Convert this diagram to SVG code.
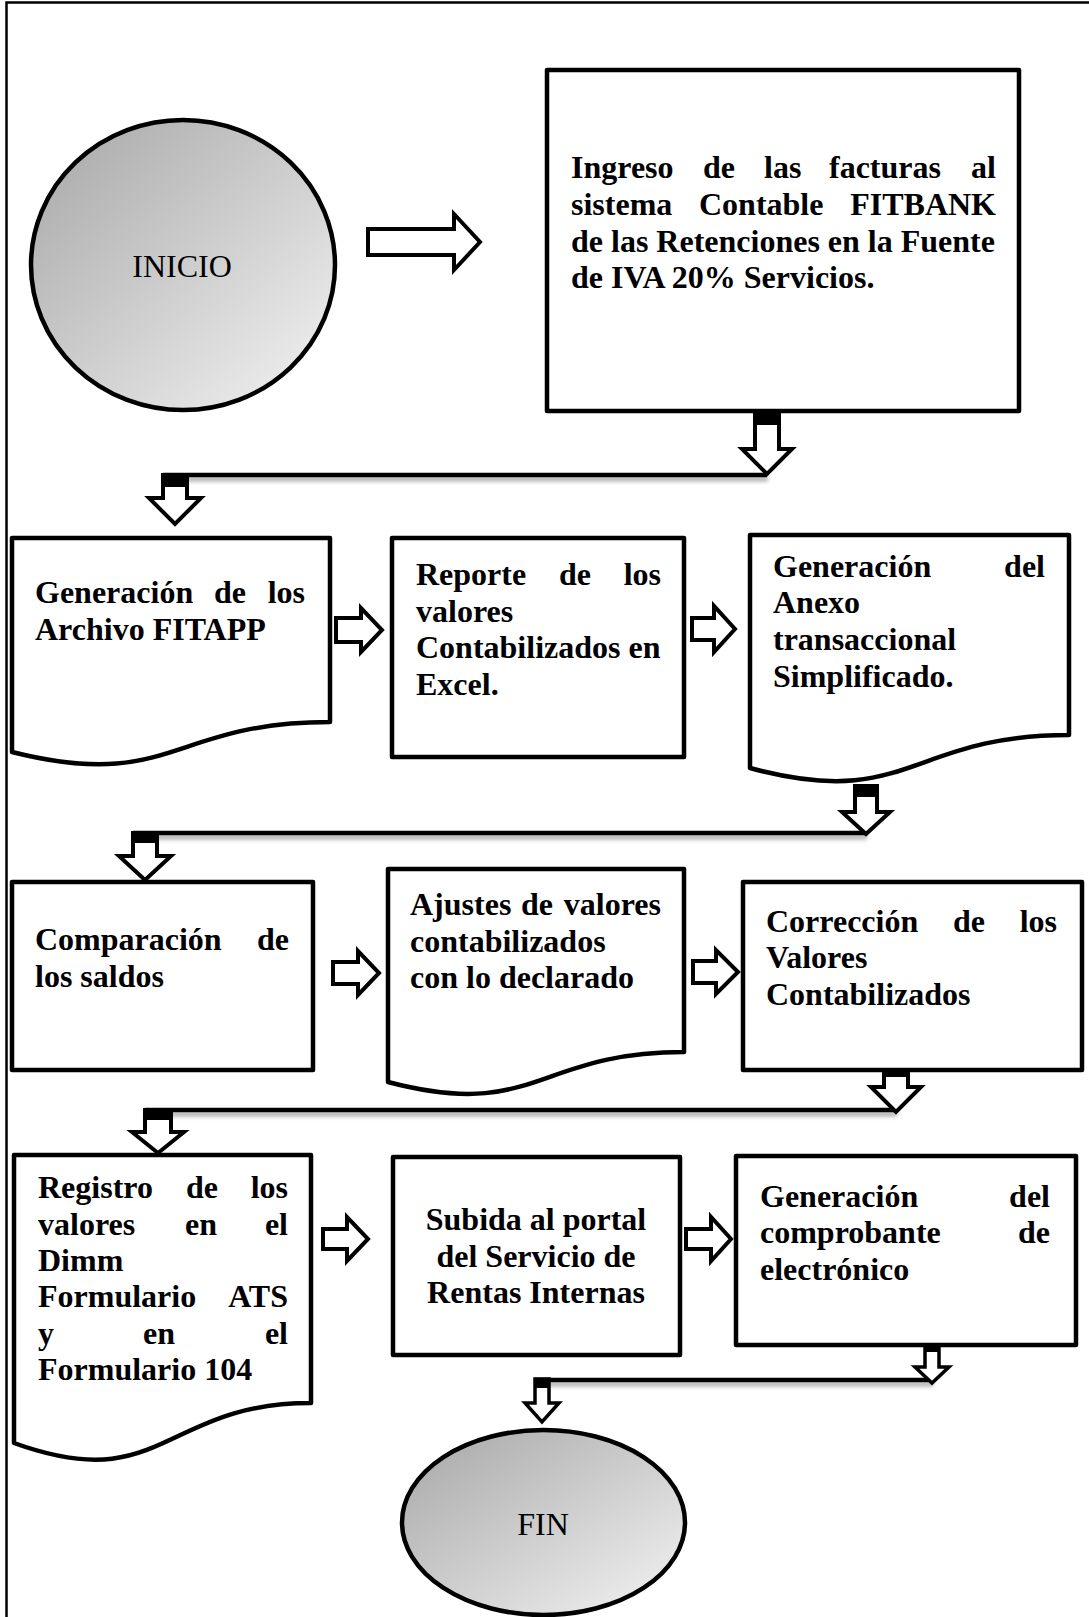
<svg xmlns="http://www.w3.org/2000/svg" width="1089" height="1617" viewBox="0 0 1089 1617">
<style>
.frame{fill:none;stroke:#000;stroke-width:2.5}
.box{fill:#fff;stroke:#000;stroke-width:4.5;stroke-linejoin:round}
.term{stroke:#000;stroke-width:4.5}
.t{font-family:"Liberation Serif","Times New Roman",serif;font-weight:bold;font-size:32px;fill:#000}
.tr{font-family:"Liberation Serif","Times New Roman",serif;font-size:32px;fill:#000;text-anchor:middle}
.e{text-anchor:end}
.m{text-anchor:middle}
.arr{fill:#fff;stroke:#000;stroke-width:4;stroke-linejoin:miter}
.arrn{fill:#fff;stroke:#000;stroke-width:3.5;stroke-linejoin:miter}
.cap{fill:#000}
.ln{fill:none;stroke:#000;stroke-width:4.5;filter:url(#sh)}
</style>
<defs>
<linearGradient id="gr" x1="0" y1="0" x2="1" y2="1">
<stop offset="0" stop-color="#a6a6a6"/>
<stop offset="1" stop-color="#f4f4f4"/>
</linearGradient>
<filter id="sh" filterUnits="userSpaceOnUse" x="0" y="0" width="1089" height="1617">
<feDropShadow dx="1" dy="4" stdDeviation="2" flood-color="#000" flood-opacity="0.35"/>
</filter>
</defs>
<rect width="1089" height="1617" fill="#fff"/>
<rect class="frame" x="6.5" y="2.5" width="1200" height="1700"/>

<g id="connectors">
<path class="arr" d="M368,229 H454 V214 L480,242 L454,270 V255 H368 Z"/>
<path class="ln" d="M163,475 H767"/>
<path class="arr" d="M755,413 H779 V449 H792 L767,474 L742,449 H755 Z"/>
<rect class="cap" x="755" y="413" width="24" height="12"/>
<path class="arr" d="M163,475 H187 V498 H201 L175,524 L149,498 H163 Z"/>
<rect class="cap" x="163" y="475" width="24" height="12"/>
<path class="arr" d="M336,618 H361 V608 L382,630 L361,652 V642 H336 Z"/>
<path class="arr" d="M692,618 H714 V606 L735,629 L714,652 V640 H692 Z"/>
<path class="ln" d="M133,833 H866"/>
<path class="arr" d="M855,786 H877 V812 H890 L866,834 L842,812 H855 Z"/>
<rect class="cap" x="855" y="786" width="22" height="11"/>
<path class="arr" d="M133,833 H157 V856 H171 L145,880 L119,856 H133 Z"/>
<rect class="cap" x="133" y="833" width="24" height="10"/>
<path class="arr" d="M333,962 H358 V951 L379,973 L358,995 V984 H333 Z"/>
<path class="arr" d="M693,961 H716 V950 L738,972 L716,994 V983 H693 Z"/>
<path class="ln" d="M145,1110 H896"/>
<path class="arr" d="M884,1068 H908 V1087 H921 L896,1112 L871,1087 H884 Z"/>
<rect class="cap" x="884" y="1068" width="24" height="9"/>
<path class="arr" d="M145,1110 H171 V1132 H184 L158,1153 L132,1132 H145 Z"/>
<rect class="cap" x="145" y="1110" width="26" height="10"/>
<path class="arr" d="M323,1229 H347 V1217 L368,1239 L347,1261 V1249 H323 Z"/>
<path class="arr" d="M686,1229 H711 V1217 L731,1239 L711,1261 V1249 H686 Z"/>
<path class="ln" d="M535,1380 H932"/>
<path class="arrn" d="M925,1345 H939 V1367 H949 L932,1383 L915,1367 H925 Z"/>
<rect class="cap" x="925" y="1345" width="14" height="7"/>
<path class="arrn" d="M535,1379 H549 V1403 H559 L542,1422 L525,1403 H535 Z"/>
<rect class="cap" x="535" y="1379" width="14" height="9"/>
</g>

<g id="inicio">
<ellipse class="term" cx="183" cy="265" rx="152" ry="145" fill="url(#gr)"/>
<text class="tr" x="182" y="277">INICIO</text>
</g>

<g id="ingreso">
<rect class="box" x="547" y="70" width="472" height="341"/>
<text class="t" y="178"><tspan x="571">Ingreso</tspan><tspan x="703">de</tspan><tspan x="764">las</tspan><tspan x="829">facturas</tspan></text>
<text class="t e" x="996" y="178">al</text>
<text class="t" y="215"><tspan x="571">sistema</tspan><tspan x="699">Contable</tspan></text>
<text class="t e" x="996" y="215">FITBANK</text>
<text class="t" x="571" y="252">de las Retenciones en la Fuente</text>
<text class="t" x="571" y="288">de IVA 20% Servicios.</text>
</g>

<g id="archivo">
<path class="box" d="M12,538 H330 V722 C171,722 171,792 12,752 Z"/>
<text class="t" y="603"><tspan x="35">Generación</tspan><tspan x="214">de</tspan></text>
<text class="t e" x="305" y="603">los</text>
<text class="t" x="35" y="640">Archivo FITAPP</text>
</g>

<g id="reporte">
<rect class="box" x="392" y="538" width="292" height="219"/>
<text class="t" y="585"><tspan x="416">Reporte</tspan><tspan x="559">de</tspan></text>
<text class="t e" x="661" y="585">los</text>
<text class="t" x="416" y="622">valores</text>
<text class="t" x="416" y="658">Contabilizados en</text>
<text class="t" x="416" y="695">Excel.</text>
</g>

<g id="anexo">
<path class="box" d="M750,535 H1069 V735 C909,735 909,811 750,768 Z"/>
<text class="t" x="773" y="577">Generación</text>
<text class="t e" x="1045" y="577">del</text>
<text class="t" x="773" y="613">Anexo</text>
<text class="t" x="773" y="650">transaccional</text>
<text class="t" x="773" y="687">Simplificado.</text>
</g>

<g id="comparacion">
<rect class="box" x="12" y="882" width="301" height="188"/>
<text class="t" x="35" y="950">Comparación</text>
<text class="t e" x="289" y="950">de</text>
<text class="t" x="35" y="987">los saldos</text>
</g>

<g id="ajustes">
<path class="box" d="M388,869 H684 V1052 C536,1052 536,1121 388,1082 Z"/>
<text class="t" y="915"><tspan x="410">Ajustes</tspan><tspan x="521">de</tspan></text>
<text class="t e" x="661" y="915">valores</text>
<text class="t" x="410" y="952">contabilizados</text>
<text class="t" x="410" y="988">con lo declarado</text>
</g>

<g id="correccion">
<rect class="box" x="743" y="882" width="339" height="188"/>
<text class="t" y="932"><tspan x="766">Corrección</tspan><tspan x="953">de</tspan></text>
<text class="t e" x="1057" y="932">los</text>
<text class="t" x="766" y="968">Valores</text>
<text class="t" x="766" y="1005">Contabilizados</text>
</g>

<g id="registro">
<path class="box" d="M14,1155 H311 V1403 C163,1403 163,1497 14,1443 Z"/>
<text class="t" y="1198"><tspan x="38">Registro</tspan><tspan x="186">de</tspan></text>
<text class="t e" x="288" y="1198">los</text>
<text class="t" y="1235"><tspan x="38">valores</tspan><tspan x="185">en</tspan></text>
<text class="t e" x="288" y="1235">el</text>
<text class="t" x="38" y="1271">Dimm</text>
<text class="t" x="38" y="1307">Formulario</text>
<text class="t e" x="288" y="1307">ATS</text>
<text class="t" y="1344"><tspan x="38">y</tspan><tspan x="143">en</tspan></text>
<text class="t e" x="288" y="1344">el</text>
<text class="t" x="38" y="1380">Formulario 104</text>
</g>

<g id="subida">
<rect class="box" x="393" y="1157" width="287" height="198"/>
<text class="t m" x="536" y="1230">Subida al portal</text>
<text class="t m" x="536" y="1267">del Servicio de</text>
<text class="t m" x="536" y="1303">Rentas Internas</text>
</g>

<g id="comprobante">
<rect class="box" x="736" y="1156" width="340" height="189"/>
<text class="t" x="760" y="1207">Generación</text>
<text class="t e" x="1050" y="1207">del</text>
<text class="t" x="760" y="1243">comprobante</text>
<text class="t e" x="1050" y="1243">de</text>
<text class="t" x="760" y="1280">electrónico</text>
</g>

<g id="fin">
<ellipse class="term" cx="543.5" cy="1522.5" rx="141.5" ry="92.5" fill="url(#gr)"/>
<text class="tr" x="543" y="1535">FIN</text>
</g>
</svg>
